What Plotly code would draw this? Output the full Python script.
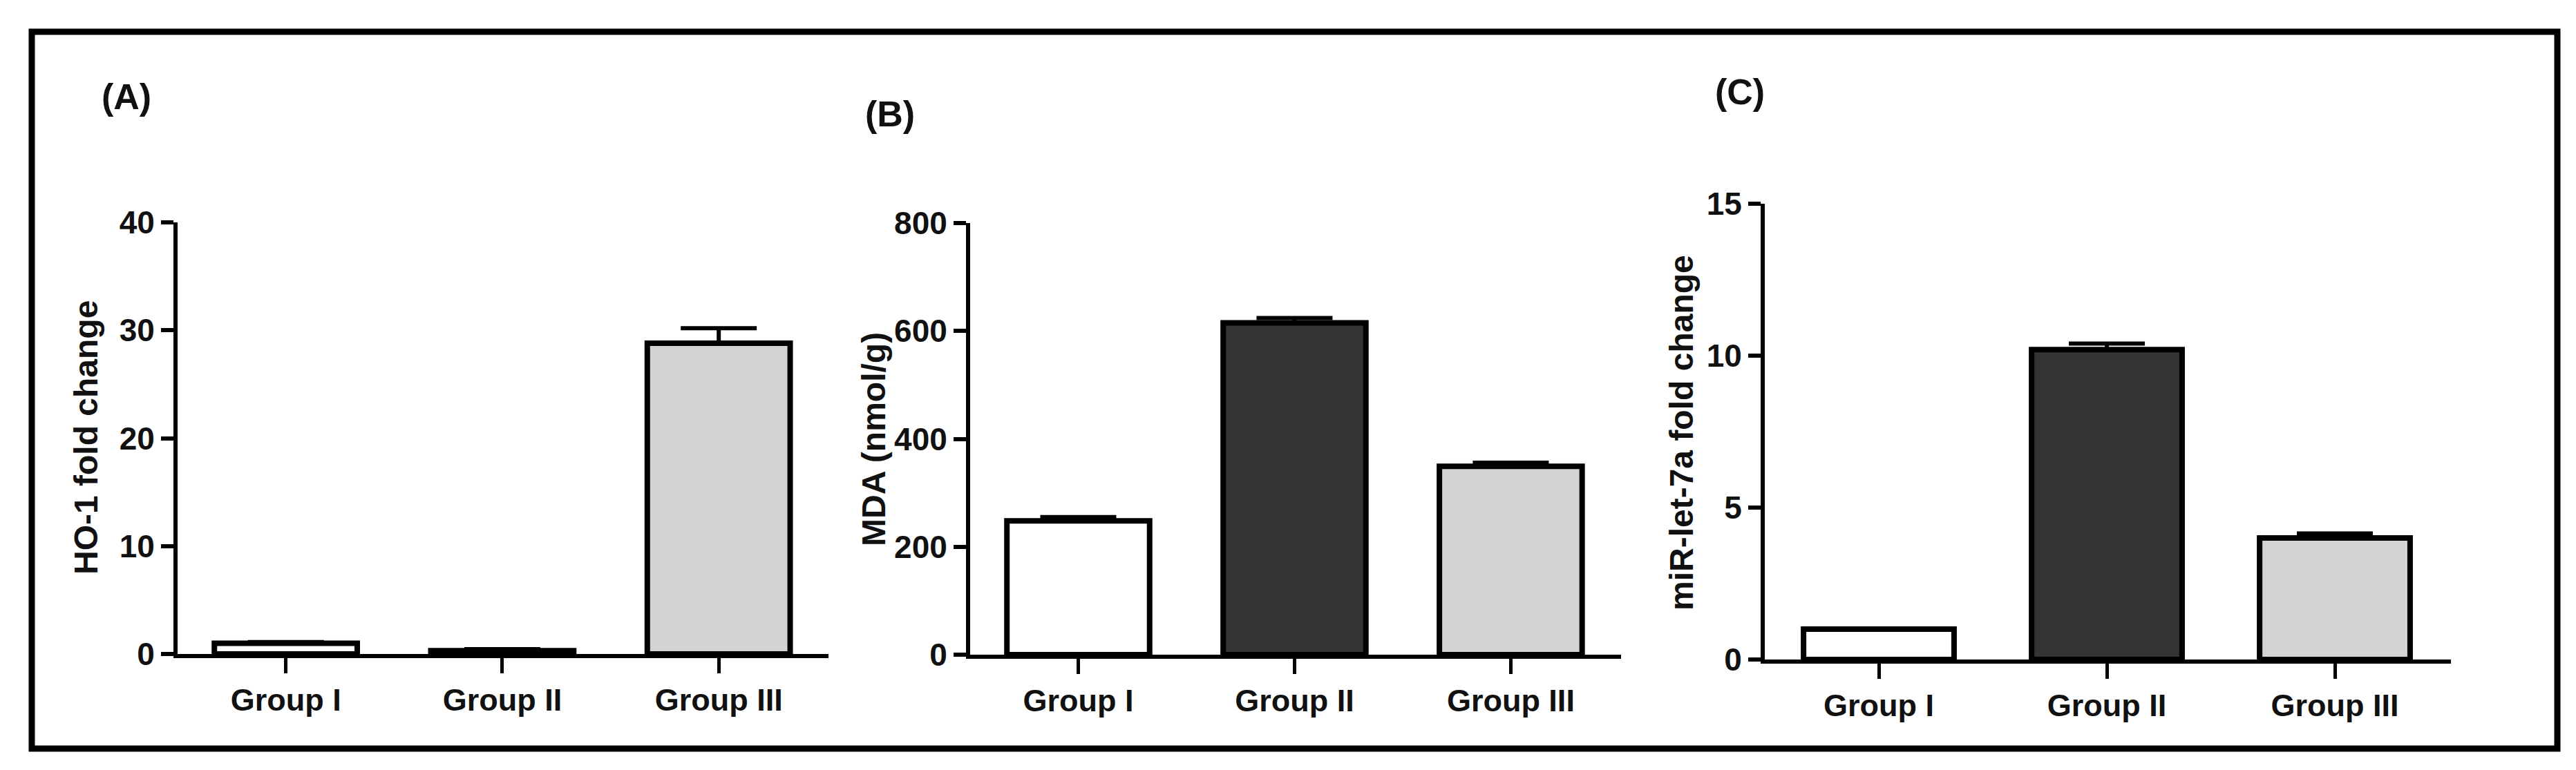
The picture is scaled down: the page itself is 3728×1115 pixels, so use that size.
import plotly.graph_objects as go

W, H = 3728, 1115

groups = ["Group I", "Group II", "Group III"]
fills = ["#ffffff", "#333333", "#d3d3d3"]

ho1_values = [1.0, 0.3, 28.8]
ho1_errors = [0.1, 0.15, 1.4]

mda_values = [248, 615, 349]
mda_errors = [7, 9, 7]

let7a_values = [1.0, 10.2, 4.0]
let7a_errors = [0.0, 0.2, 0.15]

panel_labels = ["(A)", "(B)", "(C)"]
y_titles = ["HO-1 fold change", "MDA (nmol/g)", "miR-let-7a fold change"]
y_ranges = [[0, 40], [0, 800], [0, 15]]
y_dticks = [10, 200, 5]

FONT = "Liberation Sans, Arial, sans-serif"

def px_x(v):
    return v / W

def px_y(v):
    return 1 - v / H

# layout geometry in pixels: (x_left, x_right, y_zero, y_top)
geom = [
    (249, 1191, 939, 314),
    (1396, 2338, 940, 315),
    (2546, 3539, 947, 287),
]
x_range_end = [2.507, 2.51, 2.509]
label_pos = [(175, 132), (1280, 157), (2510, 125)]
title_pos = [(116, 626), (1256, 628), (2425, 619)]

series = [
    (ho1_values, ho1_errors),
    (mda_values, mda_errors),
    (let7a_values, let7a_errors),
]

fig = go.Figure()
layout = dict(
    template="none",
    width=W, height=H, autosize=False,
    margin=dict(l=0, r=0, t=0, b=0, pad=0, autoexpand=False),
    paper_bgcolor="white", plot_bgcolor="white",
    showlegend=False,
    font=dict(family=FONT, color="#111111"),
)

annotations = []
for i, ((vals, errs), (xl, xr, y0, yt)) in enumerate(zip(series, geom)):
    n = "" if i == 0 else str(i + 1)
    fig.add_trace(go.Bar(
        x=groups, y=vals,
        xaxis="x" + n, yaxis="y" + n,
        width=0.66,
        marker=dict(color=fills, line=dict(color="black", width=8)),
        error_y=dict(type="data", array=errs, arrayminus=[0] * len(errs),
                     symmetric=False, thickness=6, width=55, color="black"),
    ))
    layout["xaxis" + n] = dict(
        domain=[px_x(xl), px_x(xr)],
        anchor="y" + n,
        type="category",
        range=[-0.5, x_range_end[i]],
        automargin=False,
        showline=True, linecolor="black", linewidth=6,
        ticks="outside", ticklen=22, tickwidth=5, tickcolor="black",
        tickfont=dict(family=FONT, size=45, color="#111111", weight="bold"),
        showgrid=False, zeroline=False, fixedrange=True,
    )
    layout["yaxis" + n] = dict(
        domain=[px_y(y0), px_y(yt)],
        anchor="x" + n,
        range=y_ranges[i],
        dtick=y_dticks[i], tick0=0,
        automargin=False,
        showline=True, linecolor="black", linewidth=6,
        ticks="outside", ticklen=18, tickwidth=6, tickcolor="black",
        tickfont=dict(family=FONT, size=46, color="#111111", weight="bold"),
        showgrid=False, zeroline=False, fixedrange=True,
    )
    lx, ly = label_pos[i]
    annotations.append(dict(
        text="<b>" + panel_labels[i] + "</b>", xref="paper", yref="paper",
        x=px_x(lx), y=px_y(ly), xanchor="center", yanchor="middle",
        showarrow=False, font=dict(family=FONT, size=52, color="#111111"),
    ))
    tx, ty = title_pos[i]
    annotations.append(dict(
        text="<b>" + y_titles[i] + "</b>", xref="paper", yref="paper",
        x=px_x(tx), y=px_y(ty), xanchor="center", yanchor="middle",
        textangle=-90, showarrow=False,
        font=dict(family=FONT, size=48, color="#111111"),
    ))

layout["annotations"] = annotations
layout["shapes"] = [dict(
    type="rect", xref="paper", yref="paper",
    x0=px_x(38), x1=px_x(3693), y0=px_y(1076), y1=px_y(38),
    line=dict(color="black", width=9), fillcolor="rgba(0,0,0,0)",
)]
fig.update_layout(**layout)
fig.write_html("out.html")
